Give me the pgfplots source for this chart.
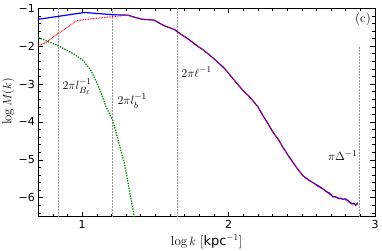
\documentclass[border=0pt]{standalone}
\usepackage{pgfplots}
\pgfplotsset{compat=1.18}
\usepackage{fontspec}
\newfontfamily\dejavu{DejaVu Sans}
\begin{document}
\begin{tikzpicture}
\begin{axis}[
  at={(0pt,0pt)}, anchor=south west,
  scale only axis, width=336.7pt, height=208.4pt,
  xmin=0.7, xmax=3, ymin=-6.5, ymax=-1,
  axis line style={black, line width=0.8pt},
  tick align=inside, xtick pos=both, ytick pos=both,
  major tick length=5pt, minor tick length=3pt,
  every tick/.style={black, line width=0.6pt},
  xtick={1,2,3}, xticklabels={1,2,3},
  ytick={-6,-5,-4,-3,-2,-1}, yticklabels={−6,−5,−4,−3,−2,−1},
  minor xtick={0.7,0.8,0.9,1.1,1.2,1.3,1.4,1.5,1.6,1.7,1.8,1.9,2.1,2.2,2.3,2.4,2.5,2.6,2.7,2.8,2.9},
  minor ytick={-6.4,-6.2,-5.8,-5.6,-5.4,-5.2,-4.8,-4.6,-4.4,-4.2,-3.8,-3.6,-3.4,-3.2,-2.8,-2.6,-2.4,-2.2,-1.8,-1.6,-1.4,-1.2},
  ticklabel style={font=\fontsize{11}{13}\selectfont\dejavu},
  xlabel={$\log k$ [{\dejavu kpc}$^{-1}$]},
  ylabel={$\log M(k)$},
  every axis x label/.style={at={(rel axis cs:0.5,0)}, anchor=center, yshift=-25pt, font=\fontsize{13}{15}\selectfont},
  every axis y label/.style={at={(rel axis cs:0,0.552)}, xshift=-30pt, rotate=90, anchor=center, font=\fontsize{13}{15}\selectfont},
  clip=true,
]
% vertical reference lines
\addplot[gray!80, line width=0.6pt, dash pattern=on 2pt off 1pt] coordinates {(0.837,-6.5) (0.837,-1)};
\addplot[gray!80, line width=0.6pt, dash pattern=on 2pt off 1pt] coordinates {(1.205,-6.5) (1.205,-1)};
\addplot[gray!80, line width=0.6pt, dash pattern=on 2pt off 1pt] coordinates {(1.649,-6.5) (1.649,-1)};
\addplot[gray!80, line width=0.6pt, dash pattern=on 2pt off 1pt] coordinates {(2.891,-6.5) (2.891,-2.03)};
% green
\addplot[color={rgb,255:red,0;green,140;blue,0}, line width=1.3pt, dash pattern=on 1.3pt off 1.3pt] coordinates {
(0.70,-1.77) (0.837,-1.99) (0.94,-2.20) (1.004,-2.37) (1.06,-2.64) (1.118,-3.12)
(1.164,-3.61) (1.209,-3.96) (1.25,-4.55) (1.289,-5.11) (1.357,-6.52)};
% blue
\addplot[color={rgb,255:red,0;green,0;blue,255}, line width=1.2pt] coordinates {
(0.70,-1.29) (1.016,-1.11) (1.21,-1.17) (1.31,-1.18) (1.36,-1.24) (1.41,-1.29)
(1.49,-1.31) (1.56,-1.46) (1.63,-1.56) (1.665,-1.66) (1.72,-1.80) (1.80,-2.03)
(1.824,-2.09) (1.90,-2.33) (1.973,-2.59) (2.05,-2.95) (2.098,-3.17) (2.144,-3.34)
(2.20,-3.60) (2.234,-3.83) (2.27,-4.05) (2.303,-4.27) (2.34,-4.46) (2.371,-4.67)
(2.41,-4.90) (2.44,-5.07) (2.475,-5.26) (2.508,-5.42) (2.542,-5.52) (2.576,-5.60)
(2.60,-5.66) (2.62,-5.70) (2.645,-5.77) (2.67,-5.84) (2.69,-5.88) (2.713,-5.98)
(2.73,-5.97) (2.75,-6.02) (2.765,-6.01) (2.781,-6.04) (2.80,-6.03) (2.82,-6.09)
(2.839,-6.16) (2.855,-6.15) (2.87,-6.19) (2.884,-6.13)};
% red
\addplot[color={rgb,255:red,255;green,0;blue,0}, line width=1.0pt, dash pattern=on 0.8pt off 0.8pt] coordinates {
(0.70,-1.99) (0.757,-1.89) (0.837,-1.66) (0.90,-1.50) (0.96,-1.33) (1.05,-1.28)
(1.21,-1.22) (1.31,-1.18) (1.36,-1.24) (1.41,-1.29)
(1.49,-1.31) (1.56,-1.46) (1.63,-1.56) (1.665,-1.66) (1.72,-1.80) (1.80,-2.03)
(1.824,-2.09) (1.90,-2.33) (1.973,-2.59) (2.05,-2.95) (2.098,-3.17) (2.144,-3.34)
(2.20,-3.60) (2.234,-3.83) (2.27,-4.05) (2.303,-4.27) (2.34,-4.46) (2.371,-4.67)
(2.41,-4.90) (2.44,-5.07) (2.475,-5.26) (2.508,-5.42) (2.542,-5.52) (2.576,-5.60)
(2.60,-5.68) (2.62,-5.73) (2.645,-5.77) (2.67,-5.86) (2.69,-5.91) (2.713,-5.96)
(2.73,-5.99) (2.75,-6.01) (2.765,-6.04) (2.781,-6.03) (2.80,-6.06) (2.82,-6.12)
(2.839,-6.14) (2.855,-6.18) (2.87,-6.21) (2.884,-6.15)};
% annotations
\node[font=\fontsize{13}{15}\selectfont] at (axis cs:0.965,-3.06) {$2\pi l_{B_\ell}^{-1}$};
\node[font=\fontsize{13}{15}\selectfont] at (axis cs:1.341,-3.45) {$2\pi l_{b}^{-1}$};
\node[font=\fontsize{13}{15}\selectfont] at (axis cs:1.781,-2.68) {$2\pi \ell^{-1}$};
\node[font=\fontsize{13}{15}\selectfont] at (axis cs:2.779,-4.89) {$\pi \Delta^{-1}$};
\node[font=\fontsize{13}{15}\selectfont] at (axis cs:2.918,-1.28) {(c)};
\end{axis}
\pgfresetboundingbox
\path[use as bounding box] (-38.3pt,-33.3pt) rectangle (343.7pt,216.7pt);
\end{tikzpicture}
\end{document}
